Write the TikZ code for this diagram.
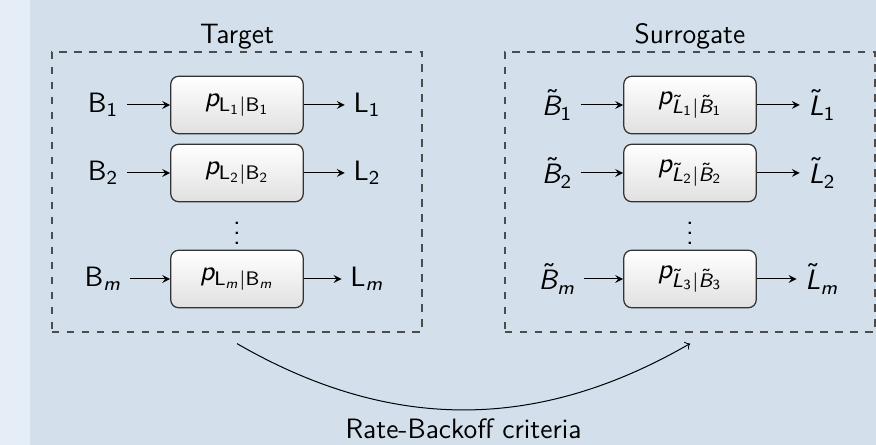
\RequirePackage{fix-cm}
\documentclass[tikz,border=0pt]{standalone}
\usepackage{tikz}
\usetikzlibrary{arrows, shapes, positioning, fit, calc}
\renewcommand{\familydefault}{\sfdefault}
\SetSymbolFont{operators}{normal}{OT1}{cmss}{m}{n}
\SetSymbolFont{letters}{normal}{OT1}{cmss}{m}{sl}
\SetMathAlphabet{\mathsf}{normal}{OT1}{cmss}{m}{n}
\definecolor{pagebg}{RGB}{211,224,235}
\definecolor{stripbg}{RGB}{229,237,246}
\tikzset{
  pdist/.style={draw=black!80, line width=0.5pt, rounded corners=3.2pt,
    top color=white, bottom color=black!12,
    minimum width=53pt, minimum height=23pt},
  groupbox/.style={draw=black!70, line width=0.5pt, dashed,
    minimum width=148pt, minimum height=112pt},
}

\begin{document}
\begin{tikzpicture}[>=stealth, x=0.4pt, y=0.4pt, font=\fontsize{11.2}{13.5}\selectfont]
\fill[pagebg] (0,0) rectangle (876,445);
\fill[stripbg] (0,0) rectangle (30,445);
\useasboundingbox (0,0) rectangle (876,445);

% the two groups
\node[groupbox, label={[inner sep=0.5pt]above:Target}] (tgt) at (237,253) {};
\node[groupbox, label={[inner sep=0.5pt]above:Surrogate}] (sur) at (690,253) {};

% target channels
\node[pdist] (p1) at (237,340) {$p_{\mathsf{L}_1|\mathsf{B}_1}$};
\node[pdist] (p2) at (237,272) {$p_{\mathsf{L}_2|\mathsf{B}_2}$};
\node[pdist] (pm) at (237,166) {$p_{\mathsf{L}_m|\mathsf{B}_m}$};
\node (b1) at (103,340) {$\mathsf{B}_1$};
\node (b2) at (103,272) {$\mathsf{B}_2$};
\node (bm) at (103,166) {$\mathsf{B}_m$};
\node (l1) at (367,340) {$\mathsf{L}_1$};
\node (l2) at (367,272) {$\mathsf{L}_2$};
\node (lm) at (367,166) {$\mathsf{L}_m$};
\node (tdots) at (237,219) {$\vdots$};
\draw[->] (b1) -- (p1);
\draw[->] (b2) -- (p2);
\draw[->] (bm) -- (pm);
\draw[->] (p1) -- (l1);
\draw[->] (p2) -- (l2);
\draw[->] (pm) -- (lm);

% surrogate channels
\node[pdist] (q1) at (690,340) {$p_{\tilde{L}_1|\tilde{B}_1}$};
\node[pdist] (q2) at (690,272) {$p_{\tilde{L}_2|\tilde{B}_2}$};
\node[pdist] (qm) at (690,166) {$p_{\tilde{L}_3|\tilde{B}_3}$};
\node (bt1) at (557,340) {$\tilde{B}_1$};
\node (bt2) at (557,272) {$\tilde{B}_2$};
\node (btm) at (557,166) {$\tilde{B}_m$};
\node (lt1) at (822,340) {$\tilde{L}_1$};
\node (lt2) at (822,272) {$\tilde{L}_2$};
\node (ltm) at (822,166) {$\tilde{L}_m$};
\node (sdots) at (690,219) {$\vdots$};
\draw[->] (bt1) -- (q1);
\draw[->] (bt2) -- (q2);
\draw[->] (btm) -- (qm);
\draw[->] (q1) -- (lt1);
\draw[->] (q2) -- (lt2);
\draw[->] (qm) -- (ltm);

% criterion linking the two groups
\coordinate (tgtout) at ($(tgt.south)+(0,-11)$);
\coordinate (surin) at ($(sur.south)+(0,-11)$);
\draw[-to] (tgtout) to[bend right=30]
    node[below] {Rate-Backoff criteria} (surin);
\end{tikzpicture}
\end{document}
